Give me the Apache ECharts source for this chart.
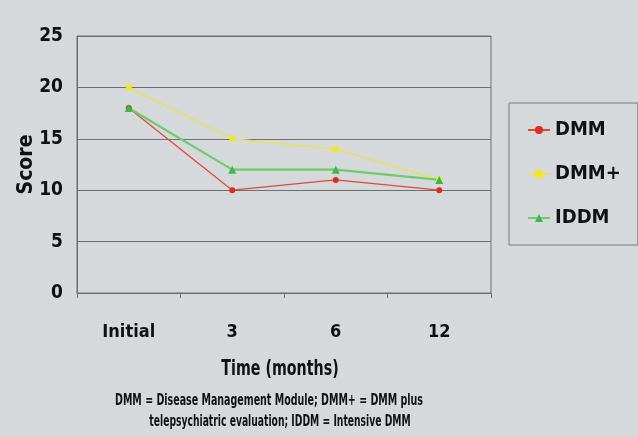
<!DOCTYPE html>
<html>
<head>
<meta charset="utf-8">
<script src="https://cdn.jsdelivr.net/npm/echarts@6/dist/echarts.min.js"></script>
<style>
  html, body { margin: 0; padding: 0; background: #d5d9db; }
  #chart { width: 638px; height: 437px; }
</style>
</head>
<body>
<div id="chart"></div>
<script>
// data
let categories = ["Initial", "3", "6", "12"];
let dmm = [18, 10, 11, 10];
let dmmPlus = [20, 15, 14, 11];
let iddm = [18, 12, 12, 11];
let yTicks = [0, 5, 10, 15, 20, 25];

const FONT = "'DejaVu Sans Condensed', 'DejaVu Sans', sans-serif";

window.onload = function () {
  var myChart = echarts.init(document.getElementById("chart"));

  var option = {
    backgroundColor: "#d5d9db",
    textStyle: { fontFamily: FONT },
    grid: {
      left: 77, right: 147, top: 36, bottom: 144,
      outerBoundsMode: "none",
      show: true, borderColor: "#6f6f6f", borderWidth: 1
    },
    legend: {
      orient: "vertical",
      left: 509, top: 103,
      padding: [17, 17, 17, 18],
      itemGap: 24,
      itemWidth: 22, itemHeight: 10,
      borderColor: "#7a7a7a", borderWidth: 1,
      textStyle: { fontFamily: FONT, fontWeight: "bold", fontSize: 20, color: "#111" },
      data: ["DMM", "DMM+", "IDDM"]
    },
    xAxis: {
      type: "category",
      data: categories,
      boundaryGap: true,
      axisLine: { lineStyle: { color: "#6f6f6f", width: 1 } },
      axisTick: { show: true, length: 5, lineStyle: { color: "#6f6f6f" } },
      axisLabel: { margin: 30, fontFamily: FONT, fontWeight: "bold", fontSize: 18, color: "#111" }
    },
    yAxis: {
      type: "value",
      min: yTicks[0], max: yTicks[yTicks.length - 1], interval: 5,
      axisLine: { show: true, lineStyle: { color: "#6f6f6f", width: 1 } },
      axisTick: { show: false },
      splitLine: { lineStyle: { color: "#6f6f6f", width: 1 } },
      axisLabel: { margin: 14, fontFamily: FONT, fontWeight: "bold", fontSize: 19, color: "#111" },
      name: "Score",
      nameLocation: "middle",
      nameGap: 40,
      nameMoveOverlap: false,
      nameTextStyle: { fontFamily: FONT, fontWeight: "bold", fontSize: 21, color: "#111" }
    },
    graphic: [
      {
        type: "text", x: 280, y: 369, scaleX: 0.72,
        style: {
          text: "Time (months)",
          textAlign: "center", textVerticalAlign: "middle",
          font: "bold 22px " + FONT,
          fill: "#111"
        }
      },
      {
        type: "text", x: 269, y: 401, scaleX: 0.66,
        style: {
          text: "DMM = Disease Management Module; DMM+ = DMM plus",
          textAlign: "center", textVerticalAlign: "middle",
          font: "bold 16px " + FONT,
          fill: "#111"
        }
      },
      {
        type: "text", x: 280, y: 422, scaleX: 0.64,
        style: {
          text: "telepsychiatric evaluation; IDDM = Intensive DMM",
          textAlign: "center", textVerticalAlign: "middle",
          font: "bold 16px " + FONT,
          fill: "#111"
        }
      }
    ],
    series: [
      {
        name: "DMM", type: "line", data: dmm,
        symbol: "circle", symbolSize: 6,
        lineStyle: { color: "#e0483a", width: 1.3 },
        itemStyle: { color: "#e02a22" }
      },
      {
        name: "DMM+", type: "line", data: dmmPlus,
        symbol: "rect", symbolSize: 6,
        lineStyle: { color: "#e6e06a", width: 1.8 },
        itemStyle: { color: "#efe82a" }
      },
      {
        name: "IDDM", type: "line", data: iddm,
        symbol: "triangle", symbolSize: 8,
        lineStyle: { color: "#6ccd6a", width: 2.2 },
        itemStyle: { color: "#3cb84a" }
      }
    ]
  };
  myChart.setOption(option);
};
</script>
</body>
</html>
